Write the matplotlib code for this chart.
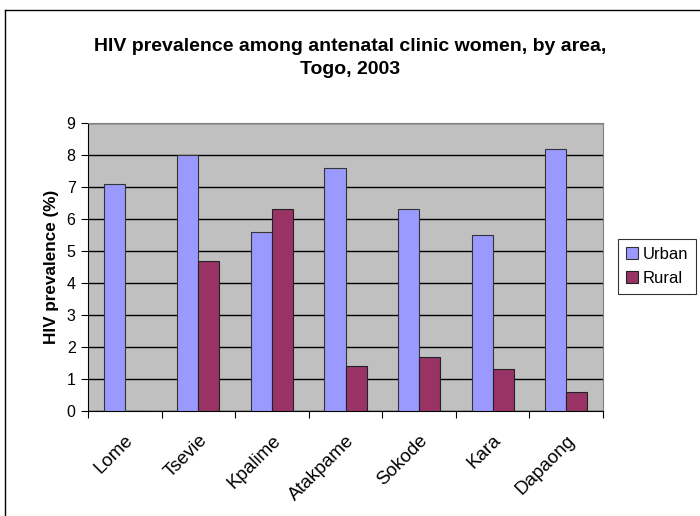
import numpy as np
import matplotlib
matplotlib.use("Agg")
import matplotlib.pyplot as plt
from matplotlib.lines import Line2D
from matplotlib.transforms import ScaledTranslation

plt.rcParams["font.family"] = ["Liberation Sans", "DejaVu Sans"]

areas = ["Lome", "Tsevie", "Kpalime", "Atakpame", "Sokode", "Kara", "Dapaong"]
urban = [7.1, 8.0, 5.6, 7.6, 6.3, 5.5, 8.2]
rural = [0.0, 4.7, 6.3, 1.4, 1.7, 1.3, 0.6]

W, H = 700, 516
fig = plt.figure(figsize=(W / 100, H / 100), dpi=100)

# chart frame (top and left edges of the Excel chart area)
fig.add_artist(Line2D([5 / W, 5 / W], [0, 1 - 10 / H], transform=fig.transFigure,
                      color="black", linewidth=1))
fig.add_artist(Line2D([5 / W, 1], [1 - 10 / H, 1 - 10 / H], transform=fig.transFigure,
                      color="black", linewidth=1))

ax = fig.add_axes([88 / W, 105 / H, 515 / W, 288 / H])
ax.set_facecolor("#C0C0C0")

x = np.arange(len(areas))
w = 1 / 3.5
ax.bar(x - w / 2, urban, w, color="#9999FF", edgecolor="#333333", linewidth=0.8,
       label="Urban", zorder=3)
ax.bar(x + w / 2, rural, w, color="#993366", edgecolor="#222222", linewidth=0.8,
       label="Rural", zorder=3)

ax.set_xlim(-0.5, len(areas) - 0.5)
ax.set_ylim(0, 9)
ax.set_yticks(range(10))
ax.yaxis.grid(True, color="black", linewidth=1, zorder=1)

ax.set_xticks(np.arange(len(areas) + 1) - 0.5)
ax.set_xticklabels([])
ax.set_xticks(x, minor=True)
ax.set_xticklabels(areas, minor=True, rotation=45, ha="right", va="top",
                   rotation_mode="anchor", fontsize=13.5)
shift = ScaledTranslation(-7 / 100, 0, fig.dpi_scale_trans)
for lab in ax.get_xticklabels(minor=True):
    lab.set_transform(lab.get_transform() + shift)
ax.tick_params(axis="x", which="minor", length=0, pad=15)
ax.tick_params(axis="x", which="major", direction="out", length=5, color="black")
ax.tick_params(axis="y", direction="out", length=5, labelsize=11.5, pad=4)

for side in ["top", "right"]:
    ax.spines[side].set_color("#808080")
for side in ["left", "bottom"]:
    ax.spines[side].set_color("black")

ax.set_ylabel("HIV prevalence (%)", fontsize=12.3, fontweight="bold")
ax.yaxis.set_label_coords(-0.056, 0.5)

fig.text(350 / W, 1 - 58 / H, "HIV prevalence among antenatal clinic women, by area,\nTogo, 2003",
         ha="center", va="center", fontsize=14, fontweight="bold", linespacing=1.45)

leg = ax.legend(loc="center left", bbox_to_anchor=(618 / W, 1 - 266.5 / H),
                bbox_transform=fig.transFigure, frameon=True, fancybox=False,
                edgecolor="black", fontsize=12, handlelength=0.75, handleheight=0.75,
                handletextpad=0.3, borderpad=0.45, labelspacing=0.55, borderaxespad=0)
leg.get_frame().set_linewidth(0.8)

fig.savefig("out.png", dpi=100)
